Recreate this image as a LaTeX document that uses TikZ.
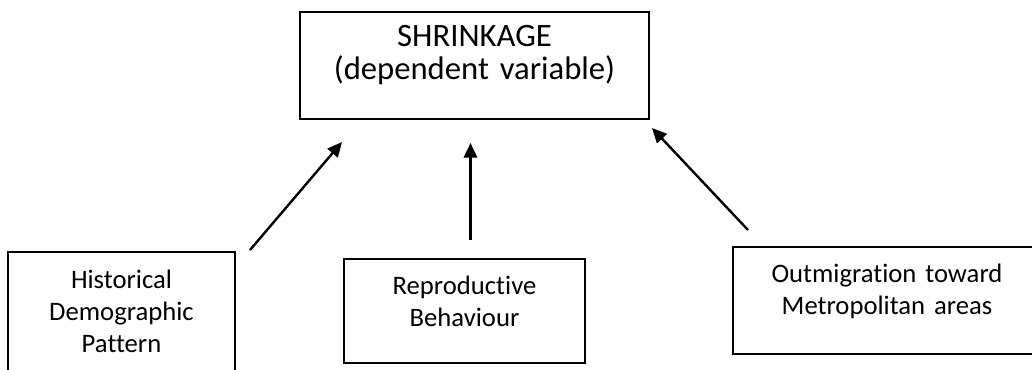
\documentclass[tikz,border=0pt]{standalone}
\usepackage{fontspec}
\setmainfont{Carlito}[Ligatures={NoCommon}]
\usepackage{tikz}
\usetikzlibrary{arrows.meta,calc,positioning,fit}

\begin{document}
\begin{tikzpicture}[x=0.75pt,y=-0.75pt,arrow/.style = {line width=1.8pt,-{Triangle[length=11pt,width=10pt]}}]
				\tikzset{box/.style={draw=black,line width=1.3pt,rectangle,inner sep=0pt,align=center,text centered}}
				\tikzset{big/.style={font=\fontsize{24.5}{25}\selectfont}, small/.style={font=\fontsize{20}{24}\selectfont}}

				\useasboundingbox (0,0) rectangle (1032,369);
				\clip (0,0) rectangle (1032,369);

				\node[fit={(300,12) (649,119)}, box, big] (shrink) {SHRINKAGE\\(dependent variable)};

				\node[fit={(8,252) (235,390)}, box, small] (hist) {Historical\\Demographic\\Pattern};
				\node[fit={(344,259) (585,363)}, box, small] (repro) {Reproductive\\Behaviour};
				\node[fit={(733,247) (1041,354)}, box, small] (outmig) {Outmigration toward\\Metropolitan areas};

				\coordinate (histfrom) at (250,250);
				\coordinate (histto) at (342,142);
				\coordinate (reprofrom) at (470.5,240);
				\coordinate (reproto) at (470.5,143);
				\coordinate (outmigfrom) at (748,230);
				\coordinate (outmigto) at (652,128);

				\draw [arrow] (histfrom) -- (histto);
				\draw [arrow] (reprofrom) -- (reproto);
				\draw [arrow] (outmigfrom) -- (outmigto);

			\end{tikzpicture}
\end{document}
